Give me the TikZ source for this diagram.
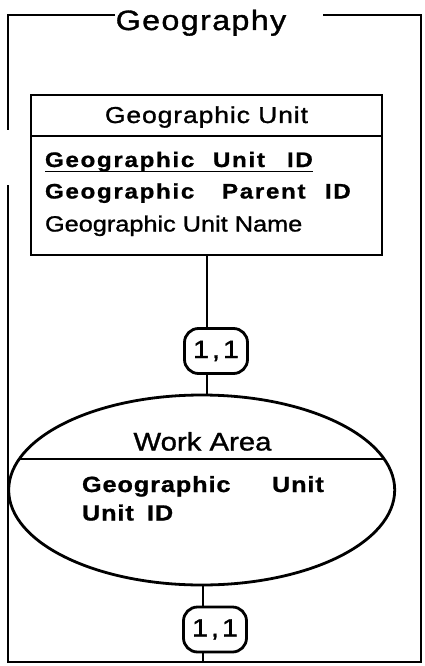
\documentclass[tikz,border=0pt]{standalone}
\usepackage{fontspec}
\setmainfont{Liberation Sans}
\newfontfamily\hv[FakeStretch=1.15,FakeBold=1.2]{Liberation Sans}
\newfontfamily\hvb[FakeStretch=1.15,FakeBold=1.0,UprightFont={* Bold}]{Liberation Sans}
\usetikzlibrary{shapes.geometric}
\newcommand{\fsz}[2]{\fontsize{#1}{#1}\selectfont\addfontfeature{LetterSpace=#2}}
\begin{document}
\begin{tikzpicture}[x=1pt,y=-1pt,line width=2.8pt,
  txt/.style={inner sep=0pt,outer sep=0pt},
  box/.style={draw,minimum width=351pt,inner sep=0pt},
  card/.style={draw,rounded corners=14pt,minimum width=63pt,minimum height=45pt,inner sep=0pt,
    font=\hv\fsz{25}{0}},
  link/.style={line width=2.4pt}]
\useasboundingbox (0,0) rectangle (425,666);

% outer subject-area frame with its title
\node[txt,anchor=base,font=\hv\fsz{28}{5}] (title) at (201,30) {Geography};
\draw[line width=2.4pt] (115,15) -- (8,15) -- (8,130);
\draw[line width=2.4pt] (8,185) -- (8,662) -- (421,662) -- (421,15) -- (323,15);

% entity: Geographic Unit
\node[box,minimum height=41pt] (head) at (206.5,115.5) {};
\node[box,minimum height=119pt] (body) at (206.5,195.5) {};
\node[txt,anchor=base,font=\hv\fsz{23}{4}] (headtxt) at (206.5,123) {Geographic Unit};
\node[txt,anchor=base west,font=\hvb\fsz{21}{8}] (pk) at (45,167)
  {\makebox[168pt][l]{Geographic}\makebox[74pt][l]{Unit}ID};
\draw[line width=1.8pt] ([yshift=-4.5pt]pk.base west) -- ([yshift=-4.5pt]pk.base east);
\node[txt,anchor=base west,font=\hvb\fsz{21}{8}] (fk) at (45,198.5)
  {\makebox[177pt][l]{Geographic}\makebox[103pt][l]{Parent}ID};
\node[txt,anchor=base west,font=\hv\fsz{22}{0}] (attr) at (45,231.5) {Geographic Unit Name};

% weak entity: Work Area
\node[draw,ellipse,minimum width=386pt,minimum height=190pt,inner sep=0pt] (work) at (201.7,490) {};
\draw (19.5,459) -- (384,459);
\node[txt,anchor=base,font=\hv\fsz{25.5}{0}] (worktxt) at (202.5,450.5) {Work Area};
\node[txt,anchor=base west,font=\hvb\fsz{22}{4}] (wk1) at (82,492)
  {\makebox[190pt][l]{Geographic}Unit};
\node[txt,anchor=base west,font=\hvb\fsz{22}{4}] (wk2) at (82,520.5)
  {\makebox[65pt][l]{Unit}ID};

% cardinalities and connectors
\node[card] (card1) at (216,351) {1\hspace{3pt},\hspace{3pt}1};
\node[card] (card2) at (215,629.5) {1\hspace{3pt},\hspace{3pt}1};
\coordinate (upx) at (207,0);
\coordinate (lowx) at (203,0);
\coordinate (fb) at (203,662);
\draw[link] (body.south -| upx) -- (card1.north -| upx);
\draw[link] (card1.south -| upx) -- (work.north -| upx);
\draw[link] (work.south -| lowx) -- (card2.north -| lowx);
\draw[link] (card2.south -| lowx) -- (fb);
\end{tikzpicture}
\end{document}
